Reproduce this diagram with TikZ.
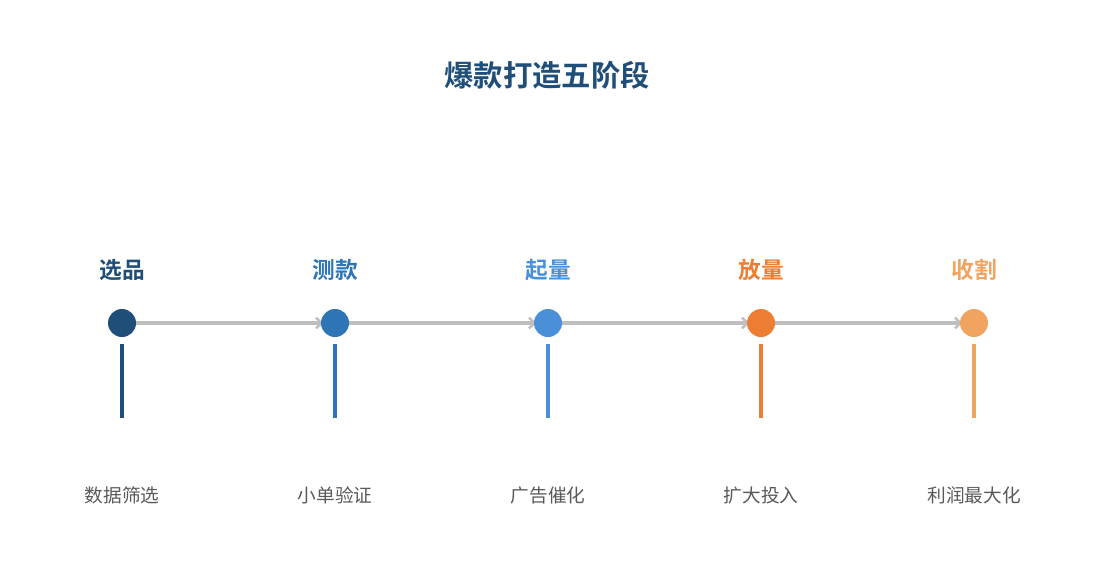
\documentclass[tikz,border=0pt]{standalone}
\usepackage{fontspec}
\newfontfamily\cjk{Noto Sans CJK SC}
\newfontfamily\cjkb{Noto Sans CJK SC Bold}
\usetikzlibrary{arrows.meta}
\definecolor{cA}{HTML}{1F4E79}
\definecolor{cB}{HTML}{2E75B6}
\definecolor{cC}{HTML}{4A90D9}
\definecolor{cD}{HTML}{ED7D31}
\definecolor{cE}{HTML}{F0A460}
\definecolor{lineg}{HTML}{BFBFBF}
\definecolor{txtg}{HTML}{595959}
\begin{document}
\begin{tikzpicture}[x=0.75pt,y=-0.75pt,
  dot/.style={circle,fill=#1,minimum size=21pt,inner sep=0pt},
  stagelbl/.style={text=#1,font=\cjkb\fontsize{17}{20}\selectfont},
  desc/.style={text=txtg,font=\cjk\fontsize{14}{17}\selectfont},
  stem/.style={draw=#1,line width=3pt},
  link/.style={draw=lineg,line width=2.5pt,-{Straight Barb[length=4pt,width=8pt,line width=1.8pt]}}]
\useasboundingbox (0,0) rectangle (1095,585);
\node[text=cA,font=\cjkb\fontsize{22}{26}\selectfont] (title) at (547,75) {爆款打造五阶段};
\foreach \i/\x/\c/\t/\d in {1/122/cA/选品/数据筛选,2/335/cB/测款/小单验证,3/548/cC/起量/广告催化,4/761/cD/放量/扩大投入,5/974/cE/收割/利润最大化}{
  \coordinate (p\i) at (\x,323);
  \node[stagelbl=\c] (l\i) at (\x,270) {\t};
  \coordinate (s\i) at (\x,344);
  \coordinate (e\i) at (\x,418);
  \node[desc] (d\i) at (\x,495) {\d};
}
\foreach \a/\b in {1/2,2/3,3/4,4/5}{
  \draw[link] (p\a) -- ([xshift=-9]p\b);
}
\foreach \i/\c in {1/cA,2/cB,3/cC,4/cD,5/cE}{
  \node[dot=\c] (c\i) at (p\i) {};
  \draw[stem=\c] (s\i) -- (e\i);
}
\end{tikzpicture}
\end{document}
